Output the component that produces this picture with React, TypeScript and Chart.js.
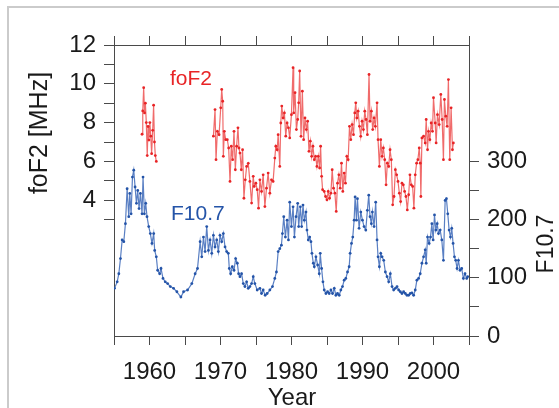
import React, { useEffect, useRef } from "react";
import { Chart, registerables } from "chart.js";

Chart.register(...registerables);

// ---- Data ----
const f107Years = [
  1955.07, 1955.45, 1955.68, 1955.91, 1956.15, 1956.38, 1956.61, 1956.85, 1957.08, 1957.22,
  1957.41, 1957.6, 1957.78, 1957.97, 1958.16, 1958.34, 1958.53, 1958.72, 1958.95, 1959.09,
  1959.28, 1959.47, 1959.65, 1959.89, 1960.12, 1960.35, 1960.59, 1960.73, 1960.96, 1961.15,
  1961.43, 1961.62, 1961.9, 1962.22, 1962.55, 1962.93, 1963.39, 1963.86, 1964.42, 1964.8,
  1965.36, 1965.96, 1966.43, 1966.76, 1967.13, 1967.36, 1967.6, 1967.83, 1968.06, 1968.3,
  1968.53, 1968.77, 1969.0, 1969.23, 1969.47, 1969.7, 1969.93, 1970.17, 1970.4, 1970.64,
  1970.87, 1971.1, 1971.24, 1971.43, 1971.66, 1971.9, 1972.13, 1972.37, 1972.55, 1972.74,
  1972.97, 1973.21, 1973.44, 1973.68, 1973.91, 1974.14, 1974.38, 1974.61, 1974.84, 1975.17,
  1975.55, 1975.78, 1976.01, 1976.29, 1976.57, 1976.95, 1977.32, 1977.65, 1977.88, 1978.12,
  1978.35, 1978.58, 1978.72, 1978.91, 1979.14, 1979.38, 1979.57, 1979.75, 1979.99, 1980.22,
  1980.41, 1980.64, 1980.87, 1981.01, 1981.25, 1981.43, 1981.62, 1981.81, 1982.04, 1982.18,
  1982.37, 1982.56, 1982.74, 1982.88, 1983.07, 1983.21, 1983.44, 1983.68, 1983.91, 1984.05,
  1984.24, 1984.43, 1984.61, 1984.85, 1985.08, 1985.31, 1985.55, 1985.78, 1986.02, 1986.25,
  1986.48, 1986.72, 1986.95, 1987.18, 1987.42, 1987.65, 1987.89, 1988.12, 1988.26, 1988.45,
  1988.63, 1988.82, 1988.96, 1989.15, 1989.29, 1989.52, 1989.76, 1989.99, 1990.22, 1990.46,
  1990.69, 1990.88, 1991.06, 1991.25, 1991.39, 1991.63, 1991.86, 1992.05, 1992.19, 1992.38,
  1992.57, 1992.76, 1992.99, 1993.22, 1993.46, 1993.69, 1993.92, 1994.16, 1994.39, 1994.63,
  1994.86, 1995.09, 1995.33, 1995.56, 1995.79, 1996.03, 1996.26, 1996.5, 1996.73, 1996.96,
  1997.2, 1997.43, 1997.66, 1997.9, 1998.13, 1998.37, 1998.6, 1998.83, 1998.97, 1999.16,
  1999.39, 1999.58, 1999.77, 1999.95, 2000.14, 2000.33, 2000.52, 2000.7, 2000.94, 2001.17,
  2001.4, 2001.64, 2001.82, 2002.01, 2002.2, 2002.39, 2002.57, 2002.76, 2002.95, 2003.13,
  2003.32, 2003.51, 2003.74, 2003.97, 2004.21, 2004.44, 2004.68, 2004.82,
];
const f107Values = [
  82, 93, 107, 133, 165, 162, 193, 253, 205, 245,
  210, 273, 285, 256, 228, 250, 219, 245, 210, 273,
  210, 228, 205, 188, 176, 159, 176, 147, 136, 113,
  107, 116, 99, 93, 90, 85, 82, 76, 67, 76,
  79, 90, 107, 116, 162, 136, 170, 145, 188, 147,
  165, 142, 173, 153, 165, 145, 173, 162, 176, 153,
  145, 142, 116, 107, 119, 113, 133, 125, 107, 102,
  107, 90, 85, 93, 82, 85, 90, 102, 90, 79,
  82, 73, 79, 70, 73, 79, 85, 99, 110, 145,
  150, 156, 176, 205, 170, 199, 165, 230, 188, 222,
  170, 205, 228, 188, 222, 188, 225, 199, 213, 182,
  165, 170, 162, 142, 125, 119, 136, 122, 107, 142,
  116, 93, 79, 73, 76, 73, 79, 73, 82, 70,
  73, 70, 79, 85, 96, 99, 110, 119, 142, 159,
  170, 199, 239, 199, 236, 185, 213, 199, 188, 182,
  216, 242, 205, 193, 213, 188, 230, 165, 136, 119,
  142, 136, 130, 110, 102, 93, 107, 85, 79, 82,
  85, 79, 76, 73, 76, 73, 70, 70, 73, 74,
  70, 79, 96, 99, 107, 125, 136, 148, 125, 170,
  159, 170, 193, 165, 208, 182, 193, 176, 182, 165,
  130, 233, 236, 210, 182, 170, 185, 159, 136, 130,
  116, 130, 113, 116, 99, 107, 99, 102,
];

const fof2YearsA = [
  1958.95, 1959.05, 1959.18, 1959.3, 1959.42, 1959.55, 1959.68, 1959.8, 1959.92, 1960.05,
  1960.18, 1960.3, 1960.45, 1960.58, 1960.7, 1960.82, 1960.96,
];
const fof2ValuesA = [
  7.4, 8.6, 9.8, 8.5, 9.0, 8.0, 6.3, 7.8, 7.1, 8.0,
  7.3, 6.4, 7.6, 8.9, 7.0, 6.3, 6.0,
];

const fof2YearsB = [
  1969.0, 1969.23, 1969.37, 1969.56, 1969.8, 1970.03, 1970.17, 1970.31, 1970.4, 1970.54,
  1970.73, 1970.96, 1971.15, 1971.34, 1971.52, 1971.71, 1971.9, 1972.09, 1972.27, 1972.46,
  1972.6, 1972.74, 1972.93, 1973.11, 1973.3, 1973.49, 1973.68, 1973.91, 1974.14, 1974.38,
  1974.61, 1974.75, 1974.98, 1975.17, 1975.36, 1975.55, 1975.78, 1976.01, 1976.25, 1976.48,
  1976.71, 1976.95, 1977.18, 1977.41, 1977.65, 1977.79, 1977.98, 1978.12, 1978.35, 1978.49,
  1978.63, 1978.82, 1979.0, 1979.19, 1979.38, 1979.57, 1979.75, 1979.99, 1980.22, 1980.31,
  1980.5, 1980.69, 1980.87, 1981.01, 1981.15, 1981.34, 1981.53, 1981.71, 1981.9, 1982.09,
  1982.27, 1982.46, 1982.65, 1982.84, 1983.02, 1983.21, 1983.4, 1983.58, 1983.77, 1983.96,
  1984.1, 1984.24, 1984.38, 1984.61, 1984.8, 1984.99, 1985.17, 1985.36, 1985.55, 1985.73,
  1985.92, 1986.11, 1986.3, 1986.48, 1986.67, 1986.86, 1987.04, 1987.23, 1987.42, 1987.6,
  1987.79, 1987.98, 1988.17, 1988.35, 1988.54, 1988.73, 1988.91, 1989.05, 1989.2, 1989.38,
  1989.57, 1989.75, 1989.94, 1990.13, 1990.32, 1990.5, 1990.69, 1990.92, 1991.06, 1991.25,
  1991.44, 1991.63, 1991.81, 1992.05, 1992.19, 1992.38, 1992.57, 1992.76, 1992.94, 1993.13,
  1993.32, 1993.5, 1993.69, 1993.88, 1994.06, 1994.25, 1994.44, 1994.63, 1994.81, 1995.0,
  1995.19, 1995.37, 1995.56, 1995.75, 1995.93, 1996.12, 1996.31, 1996.5, 1996.68, 1996.87,
  1997.06, 1997.24, 1997.43, 1997.62, 1997.8, 1997.99, 1998.13, 1998.22, 1998.37, 1998.6,
  1998.83, 1998.97, 1999.16, 1999.3, 1999.49, 1999.67, 1999.86, 2000.0, 2000.24, 2000.37,
  2000.56, 2000.8, 2001.03, 2001.22, 2001.4, 2001.54, 2001.73, 2001.92, 2002.1, 2002.29,
  2002.48, 2002.67, 2002.8,
];
const fof2ValuesB = [
  7.3, 8.67, 6.09, 7.55, 7.38, 8.76, 9.71, 9.1, 6.26, 7.55,
  7.12, 7.12, 6.69, 4.97, 6.78, 6.09, 7.55, 5.57, 6.78, 7.73,
  6.69, 6.43, 5.57, 6.6, 4.1, 5.05, 5.74, 5.9, 4.97, 3.85,
  5.23, 4.71, 4.88, 4.54, 3.59, 5.05, 4.45, 5.31, 3.67, 4.62,
  5.4, 4.36, 5.05, 4.97, 6.17, 6.78, 6.6, 7.38, 5.74, 7.98,
  8.85, 8.24, 8.5, 7.3, 7.98, 7.73, 7.21, 8.41, 10.83, 8.5,
  9.54, 7.64, 8.16, 9.02, 10.66, 7.29, 9.62, 7.12, 8.24, 7.64,
  8.07, 6.52, 7.04, 6.26, 6.78, 6.09, 6.26, 5.74, 6.26, 5.66,
  6.78, 5.23, 4.54, 4.45, 4.19, 4.02, 4.45, 4.1, 4.36, 5.57,
  4.62, 4.36, 3.42, 4.88, 5.31, 4.62, 5.91, 4.45, 5.4, 4.88,
  6.26, 6.09, 7.81, 7.12, 7.9, 7.38, 8.5, 9.02, 8.24, 8.59,
  7.81, 7.29, 8.07, 7.64, 8.59, 8.16, 7.38, 10.48, 8.07, 8.59,
  7.64, 8.24, 7.81, 9.02, 7.12, 5.74, 7.12, 6.26, 6.69, 6.09,
  4.79, 5.91, 5.74, 6.6, 6.09, 3.76, 4.19, 5.57, 5.31, 4.97,
  4.36, 3.93, 4.88, 4.79, 4.45, 4.19, 3.5, 4.28, 5.31, 4.79,
  4.71, 3.59, 5.31, 5.91, 6.09, 6.69, 5.91, 4.19, 7.21, 7.3,
  6.95, 8.16, 6.6, 7.55, 7.12, 7.98, 7.55, 9.28, 7.98, 6.95,
  8.41, 7.9, 9.45, 8.16, 6.09, 9.19, 8.33, 7.81, 10.22, 6.09,
  8.76, 6.6, 6.95,
];

const yearMin = 1955;
const yearMax = 2005;
const fof2Min = -3;
const fof2Max = 12;
const f107Min = 0;
const f107Max = 500;

const FONT = "'Liberation Sans', Arial, Helvetica, sans-serif";
const AXIS = "#4a4a4a";
const TEXT = "#1a1a1a";
const RED = "rgb(232, 36, 38)";
const RED_LINE = "rgba(236, 70, 70, 0.8)";
const BLUE = "rgb(36, 84, 168)";
const BLUE_LINE = "rgba(60, 105, 185, 0.85)";

const pairs = (xs: number[], ys: number[]) => xs.map((x, i) => ({ x, y: ys[i] }));

const overlayPlugin = {
  id: "overlayText",
  beforeDraw(chart: any) {
    const ctx = chart.ctx;
    ctx.save();
    ctx.fillStyle = "#cbcbcb";
    ctx.fillRect(7, 6, 552, 2);
    ctx.fillRect(7, 6, 2, 402);
    ctx.restore();
  },
  afterDraw(chart: any) {
    const ctx = chart.ctx;
    ctx.save();
    ctx.fillStyle = TEXT;
    ctx.textBaseline = "alphabetic";
    ctx.font = `24px ${FONT}`;
    ctx.textAlign = "center";
    ctx.fillText("Year", 292, 405);

    ctx.save();
    ctx.translate(47, 133);
    ctx.rotate(-Math.PI / 2);
    ctx.font = `25px ${FONT}`;
    ctx.fillText("foF2 [MHz]", 0, 0);
    ctx.restore();

    ctx.save();
    ctx.translate(553, 244);
    ctx.rotate(-Math.PI / 2);
    ctx.font = `23px ${FONT}`;
    ctx.fillText("F10.7", 0, 0);
    ctx.restore();

    ctx.textAlign = "left";
    ctx.font = `21px ${FONT}`;
    ctx.fillStyle = RED;
    ctx.fillText("foF2", 170, 85);
    ctx.fillStyle = BLUE;
    ctx.fillText("F10.7", 171, 220);
    ctx.restore();
  },
};

export default function App() {
  const canvasRef = useRef<HTMLCanvasElement | null>(null);

  useEffect(() => {
    if (!canvasRef.current) return;
    const tickFont = { family: FONT, size: 24 };
    const lineDataset = (label: string, data: any[], axis: string, line: string, point: string) => ({
      label,
      data,
      yAxisID: axis,
      xAxisID: "x",
      borderColor: line,
      borderWidth: 1.2,
      pointRadius: 1.4,
      pointBorderWidth: 0,
      pointBackgroundColor: point,
      tension: 0,
    });
    const chart = new Chart(canvasRef.current, {
      type: "line",
      data: {
        datasets: [
          lineDataset("F10.7", pairs(f107Years, f107Values), "yR", BLUE_LINE, BLUE),
          lineDataset("foF2 a", pairs(fof2YearsA, fof2ValuesA), "yL", RED_LINE, RED),
          lineDataset("foF2 b", pairs(fof2YearsB, fof2ValuesB), "yL", RED_LINE, RED),
        ],
      },
      options: {
        responsive: false,
        animation: false,
        devicePixelRatio: 1,
        layout: { padding: 0 },
        plugins: {
          legend: { display: false },
          tooltip: { enabled: false },
        },
        scales: {
          x: {
            type: "linear",
            position: "bottom",
            min: yearMin,
            max: yearMax,
            border: { display: true, color: AXIS, width: 1 },
            grid: { drawOnChartArea: false, drawTicks: true, tickLength: 9, tickColor: AXIS, tickWidth: 1 },
            ticks: {
              stepSize: 5,
              autoSkip: false,
              maxRotation: 0,
              padding: 13,
              color: TEXT,
              font: tickFont,
              callback: (v: any) => (Number(v) % 10 === 0 ? String(v) : ""),
            },
            afterFit: (s: any) => {
              s.height = 72;
            },
          },
          xTop: {
            type: "linear",
            position: "top",
            min: yearMin,
            max: yearMax,
            border: { display: true, color: AXIS, width: 1 },
            grid: { drawOnChartArea: false, drawTicks: true, tickLength: 9, tickColor: AXIS, tickWidth: 1 },
            ticks: {
              stepSize: 5,
              autoSkip: false,
              maxRotation: 0,
              font: tickFont,
              callback: () => "",
            },
            afterFit: (s: any) => {
              s.height = 45;
            },
          },
          yL: {
            type: "linear",
            position: "left",
            min: fof2Min,
            max: fof2Max,
            border: { display: true, color: AXIS, width: 1 },
            grid: { drawOnChartArea: false, drawTicks: true, tickLength: 10, tickColor: AXIS, tickWidth: 1 },
            afterBuildTicks: (s: any) => {
              s.ticks = s.ticks.filter((t: any) => t.value >= 3);
            },
            ticks: {
              stepSize: 1,
              autoSkip: false,
              padding: 8,
              color: TEXT,
              font: tickFont,
              callback: (v: any) => (Number(v) >= 4 && Number(v) % 2 === 0 ? String(v) : ""),
            },
            afterFit: (s: any) => {
              s.width = 114;
            },
          },
          yR: {
            type: "linear",
            position: "right",
            min: f107Min,
            max: f107Max,
            border: { display: true, color: AXIS, width: 1 },
            grid: { drawOnChartArea: false, drawTicks: true, tickLength: 10, tickColor: AXIS, tickWidth: 1 },
            afterBuildTicks: (s: any) => {
              s.ticks = s.ticks.filter((t: any) => t.value <= 300);
            },
            ticks: {
              stepSize: 50,
              autoSkip: false,
              padding: 8,
              color: TEXT,
              font: tickFont,
              callback: (v: any) => (Number(v) % 100 === 0 ? String(v) : ""),
            },
            afterFit: (s: any) => {
              s.width = 90;
            },
          },
        },
      },
      plugins: [overlayPlugin],
    } as any);
    return () => chart.destroy();
  }, []);

  return (
    <div style={{ position: "absolute", left: 0, top: 0, width: 559, height: 408, background: "#ffffff" }}>
      <canvas ref={canvasRef} width={559} height={408} style={{ display: "block" }} />
    </div>
  );
}
